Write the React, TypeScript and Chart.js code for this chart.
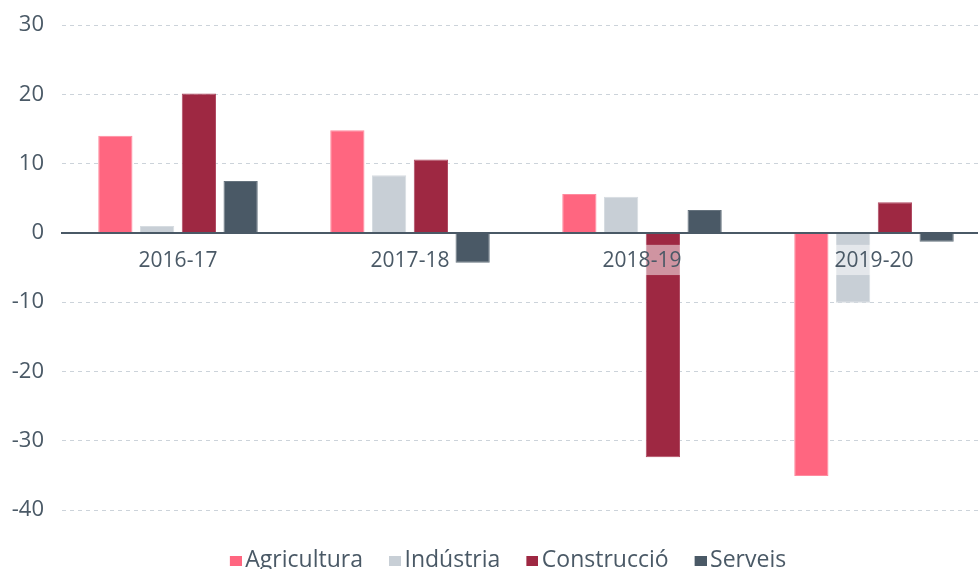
import React, { useEffect, useRef } from 'react';
import { Chart, registerables } from 'chart.js';

Chart.register(...registerables);

const categories = ['2016-17', '2017-18', '2018-19', '2019-20'];
const agricultura = [14.0, 14.8, 5.6, -35.1];
const industria = [1.0, 8.3, 5.2, -10.1];
const construccio = [20.1, 10.6, -32.4, 4.4];
const serveis = [7.5, -4.3, 3.3, -1.3];
const seriesNames = ['Agricultura', 'Indústria', 'Construcció', 'Serveis'];
const yMin = -40;
const yMax = 30;
const yStep = 10;

const TEXT = '#4a5966';
const FONT = "'Open Sans', 'Noto Sans', sans-serif";

function legendSwatch(color: string): HTMLCanvasElement {
  const c = document.createElement('canvas');
  c.width = 28;
  c.height = 10;
  const ctx = c.getContext('2d');
  if (ctx) {
    ctx.fillStyle = color;
    ctx.fillRect(16, 0, 12, 10);
  }
  return c;
}

export default function App() {
  const ref = useRef<HTMLCanvasElement | null>(null);

  useEffect(() => {
    const canvas = ref.current;
    if (!canvas) return;
    const colors = ['#ff6680', '#c8cfd6', '#9e2842', '#4a5966'];
    const borders = ['#ff8a9e', '#d6dce1', '#b04a62', '#66737e'];
    const values = [agricultura, industria, construccio, serveis];
    const swatches = colors.map(legendSwatch);
    const chart = new Chart(canvas, {
      type: 'bar',
      data: {
        labels: categories,
        datasets: seriesNames.map((name, i) => ({
          label: name,
          data: values[i],
          backgroundColor: colors[i],
          borderColor: borders[i],
          borderWidth: 1,
          categoryPercentage: 0.72,
          barPercentage: 0.82,
        })),
      },
      options: {
        responsive: false,
        animation: false,
        font: { family: FONT },
        layout: { padding: { left: 18, top: 0, right: 22, bottom: 0 } },
        scales: {
          x: {
            position: { y: 0 },
            grid: { display: false, drawTicks: false },
            border: { display: true, color: TEXT, width: 2, z: 1 },
            ticks: {
              z: 1,
              color: TEXT,
              font: { family: FONT, size: 21 },
              padding: 16,
              showLabelBackdrop: true,
              backdropColor: 'rgba(255,255,255,0.5)',
              backdropPadding: { top: 4, bottom: 1, left: 3, right: 3 },
            },
          },
          y: {
            min: yMin,
            max: yMax,
            afterFit: (scale: any) => {
              scale.width = 44;
              scale.paddingTop = 25;
              scale._computeLabelArea = () => undefined;
            },
            ticks: {
              stepSize: yStep,
              color: TEXT,
              font: { family: FONT, size: 22 },
              padding: 18,
            },
            grid: { color: '#ccd3da', drawTicks: false, lineWidth: 1 },
            border: { display: false, dash: [4, 4] },
          },
        },
        plugins: {
          legend: {
            position: 'bottom',
            title: { display: true, text: '', padding: 0, font: { size: 10, lineHeight: '21px' } },
            labels: {
              usePointStyle: true,
              pointStyleWidth: 12,
              boxHeight: 10,
              color: TEXT,
              font: { family: FONT, size: 23 },
              padding: 18,
              generateLabels: (ch: any) => {
                const items = Chart.defaults.plugins.legend.labels.generateLabels(ch);
                return items.map((it: any) => ({ ...it, pointStyle: swatches[it.datasetIndex] }));
              },
            },
          },
          tooltip: { enabled: false },
        },
      },
    });
    return () => chart.destroy();
  }, []);

  return (
    <div style={{ position: 'absolute', left: 0, top: 0, width: 978, height: 569, overflow: 'hidden', background: '#fff' }}>
      <canvas ref={ref} width={1012} height={582} style={{ display: 'block' }} />
    </div>
  );
}
